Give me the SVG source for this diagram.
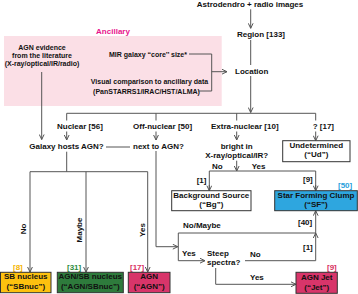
<svg xmlns="http://www.w3.org/2000/svg" width="358" height="294" viewBox="0 0 358 294">
<style>
text{font-family:"Liberation Sans",Arial,sans-serif;font-weight:bold;font-size:8px;fill:#111}
.s{font-size:7px}
.c{text-anchor:middle}
.ln{fill:none;stroke:#555;stroke-width:1}
.bx{stroke:#333;stroke-width:1}
</style>
<defs>
<marker id="ah" viewBox="0 0 6 6" refX="5.5" refY="3" markerWidth="6" markerHeight="6" orient="auto" markerUnits="userSpaceOnUse">
<path d="M0.5,0.6 L5.5,3 L0.5,5.4" fill="none" stroke="#555" stroke-width="1"/>
</marker>
</defs>
<g id="ancillary">
<rect x="4" y="36" width="217.7" height="70" fill="#fbdfe6"/>
<text class="c" x="113" y="34" style="fill:#e8158c">Ancillary</text>
<text class="s c" x="42" y="50.2">AGN evidence</text>
<text class="s c" x="42" y="57.5">from the literature</text>
<text class="s c" x="42" y="65.8">(X-ray/optical/IR/radio)</text>
<text class="s c" x="148" y="56.5">MIR galaxy “core’’ size*</text>
<text class="s c" x="149.5" y="84.2">Visual comparison to ancillary data</text>
<text class="s c" x="146.5" y="93.5">(PanSTARRS1/IRAC/HST/ALMA)</text>
</g>
<g id="labels">
<text class="c" x="250" y="7">Astrodendro + radio images</text>
<text x="237" y="37">Region [133]</text>
<text x="235" y="74">Location</text>
<text x="57" y="128.7">Nuclear [56]</text>
<text x="133" y="128.7">Off-nuclear [50]</text>
<text x="211" y="128.7">Extra-nuclear [10]</text>
<text x="312.7" y="128.7">? [17]</text>
<text class="c" x="66.5" y="148.7">Galaxy hosts AGN?</text>
<text x="133" y="148.7">next to AGN?</text>
<text class="c" x="236.7" y="148.7">bright in</text>
<text class="c" x="236.7" y="158">X-ray/optical/IR?</text>
<text x="212" y="168.7">No</text>
<text x="251.7" y="168.7">Yes</text>
<text x="196.7" y="183">[1]</text>
<text x="303" y="182.3">[9]</text>
<text x="338" y="187.5" style="fill:#2a9fdc">[50]</text>
<text x="183" y="228">No/Maybe</text>
<text x="298" y="225.3">[40]</text>
<text x="303" y="250.3">[1]</text>
<text x="182" y="256">Yes</text>
<text x="207" y="256.3">Steep</text>
<text x="207" y="264.7">spectra?</text>
<text x="250" y="257">No</text>
<text x="250" y="280">Yes</text>
<text x="327" y="270" style="fill:#d8305f">[9]</text>
<text class="c" transform="translate(26.3,229) rotate(-90)">No</text>
<text class="c" transform="translate(82,230) rotate(-90)">Maybe</text>
<text class="c" transform="translate(144.7,230) rotate(-90)">Yes</text>
<text x="13" y="269.5" style="fill:#f5b400">[8]</text>
<text x="67" y="269.5" style="fill:#2e8b3e">[31]</text>
<text x="130" y="269.5" style="fill:#d8305f">[17]</text>
</g>
<g id="connectors">
<path class="ln" d="M250.7,9.3 V28.3" marker-end="url(#ah)"/>
<path class="ln" d="M250.7,40 V65"/>
<path class="ln" d="M250.7,76 V112.5" marker-end="url(#ah)"/>
<path class="ln" d="M189,54 H211.7 V91 H198"/>
<path class="ln" d="M211.7,71.7 H227" marker-end="url(#ah)"/>
<path class="ln" d="M41.7,72 V139.5" marker-end="url(#ah)"/>
<path class="ln" d="M66.7,120.5 V113.3 H315.7 V120.5"/>
<path class="ln" d="M156,113.3 V120.5 M236.7,113.3 V120.5"/>
<path class="ln" d="M66.7,131.5 V140" marker-end="url(#ah)"/>
<path class="ln" d="M156,131.5 V140" marker-end="url(#ah)"/>
<path class="ln" d="M236.7,131.5 V140" marker-end="url(#ah)"/>
<path class="ln" d="M315.7,131.5 V140.7" marker-end="url(#ah)"/>
<path class="ln" d="M106,147 H130"/>
<path class="ln" d="M66.7,151.7 V171.7 M30,171.7 H147.7"/>
<path class="ln" d="M30,171.7 V272" marker-end="url(#ah)"/>
<path class="ln" d="M86,171.7 V272" marker-end="url(#ah)"/>
<path class="ln" d="M147.7,171.7 V272" marker-end="url(#ah)"/>
<path class="ln" d="M236.7,160.7 V171" marker-end="url(#ah)"/>
<path class="ln" d="M209.3,190.7 V171 H315.7 V190.7"/>
<path class="ln" d="M209.3,185 V190.7" marker-end="url(#ah)"/>
<path class="ln" d="M315.7,185 V190.7" marker-end="url(#ah)"/>
<path class="ln" d="M156,151 V246.7 H177.8" marker-end="url(#ah)"/>
<path class="ln" d="M315.7,233 H178.3 V260.7 H205" marker-end="url(#ah)"/>
<path class="ln" d="M315.7,233 V210.7" marker-end="url(#ah)"/>
<path class="ln" d="M245,260.7 H315.7 V233" marker-end="url(#ah)"/>
<path class="ln" d="M215.7,268 V284.3 H296" marker-end="url(#ah)"/>
</g>
<g id="node-ud">
<rect class="bx" x="282.7" y="140.7" width="67.3" height="21" fill="#fff"/>
<text class="c" x="316.3" y="148">Undetermined</text>
<text class="c" x="316.3" y="157">(“Ud”)</text>
</g>
<g id="node-bg">
<rect class="bx" x="171.7" y="190.7" width="79.3" height="20" fill="#fff"/>
<text class="c" x="211.3" y="197.5">Background Source</text>
<text class="c" x="211.3" y="206.5">(“Bg”)</text>
</g>
<g id="node-sf">
<rect class="bx" x="274.7" y="190.7" width="82.6" height="20" fill="#2ea6df"/>
<text class="c" x="316" y="197.5">Star Forming Clump</text>
<text class="c" x="316" y="206.5">(“SF”)</text>
</g>
<g id="node-sbnuc">
<rect class="bx" x="0.5" y="272.3" width="50.5" height="20.4" fill="#fdc10f"/>
<text class="c" x="25.8" y="279.3">SB nucleus</text>
<text class="c" x="25.8" y="289">(“SBnuc”)</text>
</g>
<g id="node-agnsb">
<rect class="bx" x="57.3" y="272.3" width="66" height="20.4" fill="#2e7b3c"/>
<text class="c" x="90.3" y="279.3">AGN/SB nucleus</text>
<text class="c" x="90.3" y="289">(“AGN/SBnuc”)</text>
</g>
<g id="node-agn">
<rect class="bx" x="128.3" y="272.3" width="41.7" height="20.4" fill="#d8356a"/>
<text class="c" x="149.2" y="279.3">AGN</text>
<text class="c" x="149.2" y="289">(“AGN”)</text>
</g>
<g id="node-jet">
<rect class="bx" x="296" y="272.3" width="41.3" height="21" fill="#d8356a"/>
<text class="c" x="316.7" y="280">AGN Jet</text>
<text class="c" x="316.7" y="290">(“Jet”)</text>
</g>
</svg>
